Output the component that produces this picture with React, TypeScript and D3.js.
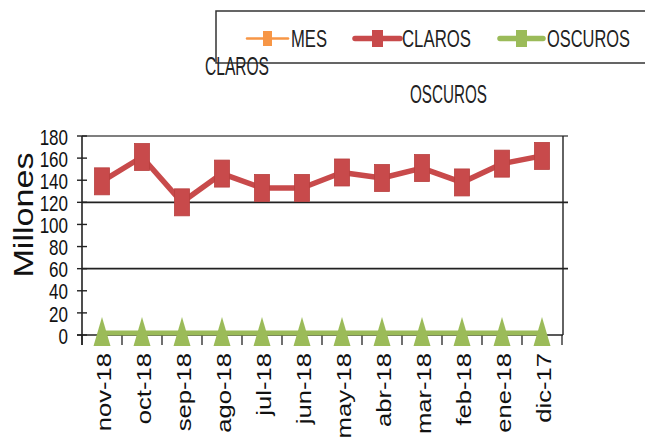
import React from "react";
import * as d3 from "d3";

const categories = ["nov-18", "oct-18", "sep-18", "ago-18", "jul-18", "jun-18", "may-18", "abr-18", "mar-18", "feb-18", "ene-18", "dic-17"];
const claros = [139, 161, 120, 146, 133, 133, 147, 142, 151, 138, 155, 162];
const oscuros = [0, 0, 0, 0, 0, 0, 0, 0, 0, 0, 0, 0];
const yTicks = [0, 20, 40, 60, 80, 100, 120, 140, 160, 180];
const gridValues = [60, 120, 180];
const legendItems = ["MES", "CLAROS", "OSCUROS"];

const W = 645;
const H = 441;
const FONT = "'Liberation Sans', Arial, sans-serif";
const RED = "#C84A4B";
const GREEN = "#9BBB59";
const ORANGE = "#F79646";

export default function App() {
  const x = d3.scaleBand<string>().domain(categories).range([82, 562]).padding(0);
  const y = d3.scaleLinear().domain([0, 180]).range([335, 136]);
  const cx = (c: string) => (x(c) as number) + x.bandwidth() / 2;

  const lineGen = d3
    .line<number>()
    .x((_, i) => cx(categories[i]))
    .y((d) => y(d));

  const oscY = (d: number) => y(d) - 2;
  const oscLine = d3
    .line<number>()
    .x((_, i) => cx(categories[i]))
    .y((d) => oscY(d));

  const boundaries = d3.range(categories.length + 1).map((i) => 82 + i * x.bandwidth());

  const legendPos = [
    { x0: 247, x1: 288, tx: 291, tw: 36, color: ORANGE, sw: 2.5, mw: 9, mh: 15 },
    { x0: 355, x1: 400, tx: 402, tw: 69, color: RED, sw: 5.5, mw: 11, mh: 17 },
    { x0: 500, x1: 543, tx: 547, tw: 83, color: GREEN, sw: 5.5, mw: 11, mh: 17 },
  ];
  const legendY = 38.5;

  return (
    <svg
      width={W}
      height={H}
      viewBox={`0 0 ${W} ${H}`}
      style={{ position: "absolute", left: 0, top: 0, background: "#fff" }}
      fontFamily={FONT}
    >
      <rect x={0} y={0} width={W} height={H} fill="#fff" />

      {/* legend box */}
      <rect x={216} y={11} width={W} height={52} fill="none" stroke="#333" strokeWidth={1.5} />
      {legendItems.map((name, i) => {
        const p = legendPos[i];
        const mid = (p.x0 + p.x1) / 2;
        return (
          <g key={name}>
            <line x1={p.x0} x2={p.x1} y1={legendY} y2={legendY} stroke={p.color} strokeWidth={p.sw} strokeLinecap="round" />
            <rect x={mid - p.mw / 2} y={legendY - p.mh / 2} width={p.mw} height={p.mh} fill={p.color} />
            <text
              transform={`translate(${p.tx},${legendY}) scale(1,1.25)`}
              y={6.8}
              fontSize={19}
              textLength={p.tw}
              lengthAdjust="spacingAndGlyphs"
              fill="#222"
            >
              {name}
            </text>
          </g>
        );
      })}

      {/* stray labels */}
      <text transform="translate(205,65) scale(1,1.33)" y={7.2} fontSize={20} textLength={64} lengthAdjust="spacingAndGlyphs" fill="#222">
        CLAROS
      </text>
      <text transform="translate(410,93) scale(1,1.33)" y={7.2} fontSize={20} textLength={77} lengthAdjust="spacingAndGlyphs" fill="#222">
        OSCUROS
      </text>

      {/* gridlines */}
      {gridValues.map((v) => (
        <line key={v} x1={82} x2={568} y1={y(v)} y2={y(v)} stroke={v === 180 ? "#555" : "#222"} strokeWidth={1.6} />
      ))}
      {/* right frame */}
      <line x1={563} x2={563} y1={y(180)} y2={y(0)} stroke="#222" strokeWidth={1.4} />

      {/* left axis */}
      <line x1={82} x2={82} y1={y(180)} y2={345} stroke="#222" strokeWidth={1.6} />
      {yTicks.map((t) => (
        <g key={t}>
          <line x1={77} x2={87} y1={y(t)} y2={y(t)} stroke="#222" strokeWidth={1.4} />
          <text
            transform={`translate(68,${y(t) + 1}) scale(1,1.25)`}
            y={6.1}
            fontSize={17}
            textAnchor="end"
            fill="#111"
          >
            {t}
          </text>
        </g>
      ))}

      {/* x axis */}
      <line x1={77} x2={563} y1={y(0)} y2={y(0)} stroke="#222" strokeWidth={1.6} />
      {boundaries.map((b, i) => (
        <line key={i} x1={b} x2={b} y1={y(0)} y2={345} stroke="#222" strokeWidth={1.3} />
      ))}
      {categories.map((c) => (
        <text
          key={c}
          transform={`translate(${cx(c) + 2},353) rotate(-90) scale(1.25,1)`}
          y={7.3}
          fontSize={20.5}
          textAnchor="end"
          fill="#111"
        >
          {c}
        </text>
      ))}

      {/* axis title */}
      <text transform="translate(23,215) rotate(-90) scale(1.22,1)" y={10} fontSize={28} textAnchor="middle" fill="#111">
        Millones
      </text>

      {/* OSCUROS series */}
      <path d={oscLine(oscuros) || ""} fill="none" stroke={GREEN} strokeWidth={5} />
      {oscuros.map((v, i) => {
        const px = cx(categories[i]);
        const py = oscY(v);
        return (
          <path
            key={i}
            d={`M${px},${py - 16} L${px + 8.5},${py + 13} L${px - 8.5},${py + 13} Z`}
            fill={GREEN}
          />
        );
      })}

      {/* CLAROS series */}
      <path d={lineGen(claros) || ""} fill="none" stroke={RED} strokeWidth={5.5} strokeLinejoin="round" />
      {claros.map((v, i) => (
        <rect key={i} x={cx(categories[i]) - 7.5} y={y(v) - 13.5} width={15} height={27} fill={RED} stroke="#B8403F" strokeWidth={0.8} />
      ))}
    </svg>
  );
}
